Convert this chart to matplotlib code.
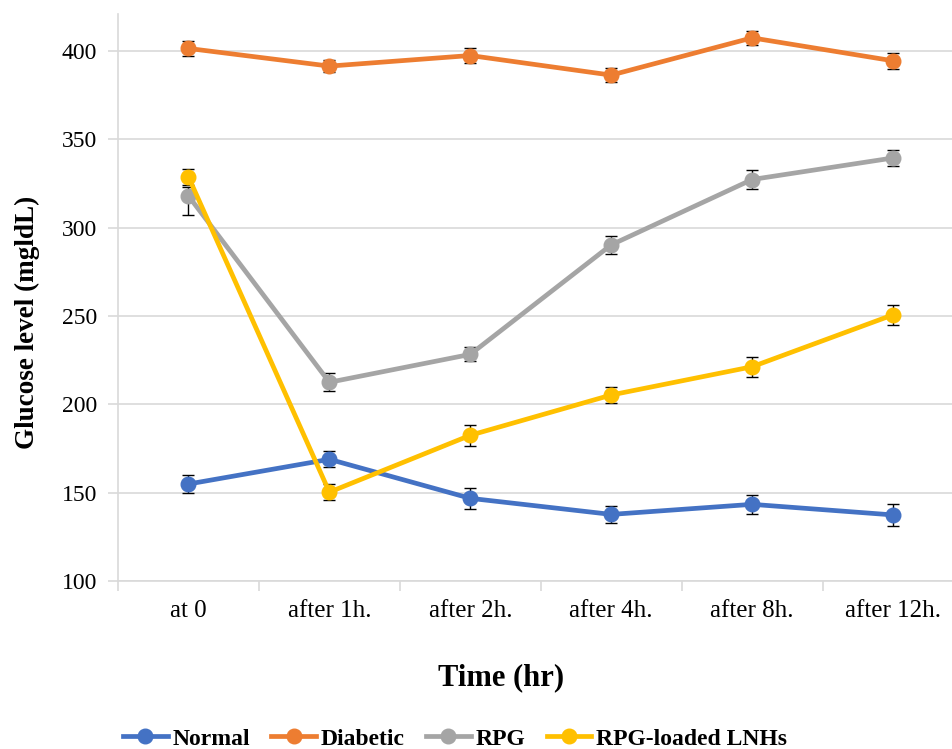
import numpy as np
import matplotlib
matplotlib.use("Agg")
import matplotlib.pyplot as plt
from matplotlib.ticker import FixedLocator, NullFormatter

plt.rcParams['font.family'] = ['Liberation Serif', 'DejaVu Serif']

# data
time_labels = ["at 0", "after 1h.", "after 2h.", "after 4h.", "after 8h.", "after 12h."]
series_names = ["Normal", "Diabetic", "RPG", "RPG-loaded LNHs"]

normal = [154.9, 168.9, 146.8, 137.7, 143.4, 137.4]
normal_err = [5.0, 4.5, 6.0, 5.0, 5.5, 6.0]

diabetic = [401.5, 391.5, 397.5, 386.4, 407.5, 394.5]
diabetic_err = [4.0, 3.4, 4.5, 3.8, 4.0, 4.5]

rpg = [318.0, 212.5, 228.3, 290.3, 327.3, 339.5]
rpg_err_low = [11.0, 5.0, 4.0, 5.0, 5.4, 4.5]
rpg_err_high = [5.0, 5.0, 4.0, 5.0, 5.4, 4.5]

rpg_lnh = [328.8, 150.3, 182.5, 205.3, 221.3, 250.7]
rpg_lnh_err = [4.5, 4.5, 6.0, 4.7, 5.7, 5.8]

colors = ["#4472C4", "#ED7D31", "#A5A5A5", "#FFC000"]
grid_col = "#D9D9D9"

fig = plt.figure(figsize=(9.53, 7.49), dpi=100)
# axes reaches past the right edge, like the cropped original
ax = fig.add_axes([118 / 953, 1 - 581 / 749, 845.5 / 953, 567 / 749])

x = np.arange(len(time_labels))
all_y = [normal, diabetic, rpg, rpg_lnh]
all_err = [normal_err, diabetic_err, [rpg_err_low, rpg_err_high], rpg_lnh_err]

handles = []
for i, (ys, err) in enumerate(zip(all_y, all_err)):
    ax.errorbar(x, ys, yerr=err, fmt='none', ecolor='black', elinewidth=1.0,
                capsize=4, capthick=1.0, zorder=3 + i * 2)
    line, = ax.plot(x, ys, color=colors[i], lw=3.4, marker='o', ms=10.5,
                    label=series_names[i], zorder=4 + i * 2)
    handles.append(line)

ax.set_xlim(-0.5, 5.5)
ax.set_ylim(100, 421)
ax.set_yticks(np.arange(100, 401, 50))
ax.yaxis.grid(True, color=grid_col, lw=1.2)
ax.set_axisbelow(True)

# category ticks sit between the labels, labels on minor ticks
ax.xaxis.set_major_locator(FixedLocator(np.arange(-0.5, 6.0, 1.0)))
ax.xaxis.set_major_formatter(NullFormatter())
ax.xaxis.set_minor_locator(FixedLocator(x))
ax.set_xticklabels(time_labels, minor=True)
ax.tick_params(axis='x', which='major', length=7, color=grid_col, width=1.2)
ax.tick_params(axis='x', which='minor', length=0, pad=14, labelsize=18)
ax.tick_params(axis='y', length=7, color=grid_col, width=1.2, pad=8, labelsize=17)

for side in ['top', 'right']:
    ax.spines[side].set_visible(False)
for side in ['left', 'bottom']:
    ax.spines[side].set_color(grid_col)
    ax.spines[side].set_linewidth(1.2)

fig.text(501 / 953, 1 - 678 / 749, "Time (hr)", ha='center', va='center',
         fontsize=22, fontweight='bold')
fig.text(27 / 953, 1 - 322 / 749, "Glucose level (mgldL)", ha='center', va='center',
         rotation=90, fontsize=19.5, fontweight='bold')

fig.legend(handles=handles, loc='center', bbox_to_anchor=(455 / 953, 1 - 739 / 749),
           ncol=4, frameon=False, prop={'weight': 'bold', 'size': 17},
           handlelength=1.9, handletextpad=0.2, columnspacing=0.9, borderpad=0)

fig.savefig("out.png", dpi=100)
